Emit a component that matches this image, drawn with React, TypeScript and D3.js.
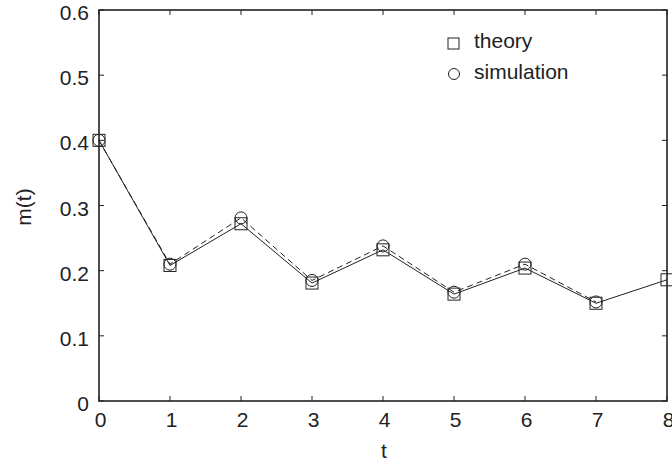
import React from "react";
import * as d3 from "d3";

const tValues = [0, 1, 2, 3, 4, 5, 6, 7, 8];
const theory = [0.4, 0.208, 0.272, 0.181, 0.232, 0.164, 0.204, 0.15, 0.186];
const simT = [0, 1, 2, 3, 4, 5, 6, 7];
const simulation = [0.4, 0.21, 0.281, 0.185, 0.238, 0.167, 0.21, 0.152];
const xTicks = [0, 1, 2, 3, 4, 5, 6, 7, 8];
const yTicks = [0, 0.1, 0.2, 0.3, 0.4, 0.5, 0.6];

const W = 672, H = 464;
const left = 99, right = 667, top = 10, bottom = 401;
const ink = "#222";
const font = "'Liberation Sans', Arial, Helvetica, sans-serif";
const fs = 21;

export default function App() {
  const x = d3.scaleLinear().domain([0, 8]).range([left, right]);
  const y = d3.scaleLinear().domain([0, 0.6]).range([bottom, top]);
  const lineTheory = d3.line<number>().x((_, i) => x(tValues[i])).y((d) => y(d));
  const lineSim = d3.line<number>().x((_, i) => x(simT[i])).y((d) => y(d));
  const s = 6;
  return (
    <svg width={W} height={H} style={{ position: "absolute", left: 0, top: 0, background: "#fff" }}>
      <rect x={0} y={0} width={W} height={H} fill="#fff" />
      <path d={lineSim(simulation) || ""} fill="none" stroke={ink} strokeWidth={1} strokeDasharray="6,4" />
      <path d={lineTheory(theory) || ""} fill="none" stroke={ink} strokeWidth={1} />
      {theory.map((v, i) => (
        <rect key={"s" + i} x={x(tValues[i]) - s} y={y(v) - s} width={2 * s} height={2 * s} fill="none" stroke={ink} strokeWidth={1} />
      ))}
      {simulation.map((v, i) => (
        <circle key={"c" + i} cx={x(simT[i])} cy={y(v)} r={s} fill="none" stroke={ink} strokeWidth={1} />
      ))}
      <rect x={left} y={top} width={right - left} height={bottom - top} fill="none" stroke={ink} strokeWidth={1.6} />
      {xTicks.map((t) => (
        <g key={"xt" + t}>
          <line x1={x(t)} x2={x(t)} y1={bottom} y2={bottom - 5} stroke={ink} strokeWidth={1} />
          <line x1={x(t)} x2={x(t)} y1={top} y2={top + 5} stroke={ink} strokeWidth={1} />
          <text x={x(t) + 1.5} y={bottom + 26} textAnchor="middle" fontFamily={font} fontSize={fs} fill={ink}>{t}</text>
        </g>
      ))}
      {yTicks.map((t) => (
        <g key={"yt" + t}>
          <line x1={left} x2={left + 5} y1={y(t)} y2={y(t)} stroke={ink} strokeWidth={1} />
          <line x1={right} x2={right - 5} y1={y(t)} y2={y(t)} stroke={ink} strokeWidth={1} />
          <text x={89} y={y(t) + 10} textAnchor="end" fontFamily={font} fontSize={fs} fill={ink}>{t === 0 ? "0" : t.toFixed(1)}</text>
        </g>
      ))}
      <text x={384} y={458} textAnchor="middle" fontFamily={font} fontSize={fs} fill={ink}>t</text>
      <text transform={`translate(31, 207) rotate(-90)`} textAnchor="middle" fontFamily={font} fontSize={fs} fill={ink}>m(t)</text>
      <rect x={448} y={38} width={11} height={11} fill="none" stroke={ink} strokeWidth={1} />
      <text x={474} y={48} fontFamily={font} fontSize={fs} fill={ink}>theory</text>
      <circle cx={454} cy={74} r={5.5} fill="none" stroke={ink} strokeWidth={1} />
      <text x={474} y={79} fontFamily={font} fontSize={fs} fill={ink}>simulation</text>
    </svg>
  );
}
